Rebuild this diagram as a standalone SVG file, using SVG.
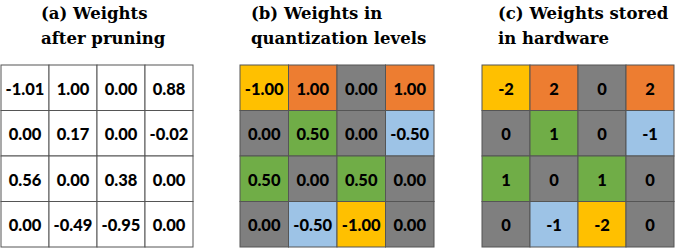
<svg xmlns="http://www.w3.org/2000/svg" width="676" height="248" viewBox="0 0 676 248">
<style>
.v{font-family:Lato,"Liberation Sans",sans-serif;font-weight:900;font-size:16.5px;fill:#000;text-anchor:middle;dominant-baseline:central}
.c{stroke:#555;stroke-width:1}
.w{fill:#fff}.y{fill:#FFC000}.o{fill:#ED7D31}.g{fill:#7F7F7F}.gr{fill:#70AD47}.b{fill:#9DC3E6}
</style>
<rect width="676" height="248" fill="#fff"/>
<g font-family="DejaVu Serif" font-weight="bold" font-size="16.5" fill="#000">
<g id="title-a"><text x="41" y="19">(a) Weights</text><text x="41" y="44">after pruning</text></g>
<g id="title-b"><text x="251" y="19">(b) Weights in</text><text x="251" y="44">quantization levels</text></g>
<g id="title-c"><text x="498" y="19">(c) Weights stored</text><text x="498" y="44">in hardware</text></g>
</g>
<g id="grid-a">
<rect class="c w" x="1" y="65" width="48" height="45.5"/><text class="v" x="25" y="88.5">-1.01</text>
<rect class="c w" x="49" y="65" width="48" height="45.5"/><text class="v" x="73" y="88.5">1.00</text>
<rect class="c w" x="97" y="65" width="48" height="45.5"/><text class="v" x="121" y="88.5">0.00</text>
<rect class="c w" x="145" y="65" width="48" height="45.5"/><text class="v" x="169" y="88.5">0.88</text>
<rect class="c w" x="1" y="110.5" width="48" height="45.5"/><text class="v" x="25" y="134">0.00</text>
<rect class="c w" x="49" y="110.5" width="48" height="45.5"/><text class="v" x="73" y="134">0.17</text>
<rect class="c w" x="97" y="110.5" width="48" height="45.5"/><text class="v" x="121" y="134">0.00</text>
<rect class="c w" x="145" y="110.5" width="48" height="45.5"/><text class="v" x="169" y="134">-0.02</text>
<rect class="c w" x="1" y="156" width="48" height="45.5"/><text class="v" x="25" y="179.5">0.56</text>
<rect class="c w" x="49" y="156" width="48" height="45.5"/><text class="v" x="73" y="179.5">0.00</text>
<rect class="c w" x="97" y="156" width="48" height="45.5"/><text class="v" x="121" y="179.5">0.38</text>
<rect class="c w" x="145" y="156" width="48" height="45.5"/><text class="v" x="169" y="179.5">0.00</text>
<rect class="c w" x="1" y="201.5" width="48" height="45.5"/><text class="v" x="25" y="225">0.00</text>
<rect class="c w" x="49" y="201.5" width="48" height="45.5"/><text class="v" x="73" y="225">-0.49</text>
<rect class="c w" x="97" y="201.5" width="48" height="45.5"/><text class="v" x="121" y="225">-0.95</text>
<rect class="c w" x="145" y="201.5" width="48" height="45.5"/><text class="v" x="169" y="225">0.00</text>
</g>
<g id="grid-b">
<rect class="c y" x="240" y="65" width="48.5" height="45.5"/><text class="v" x="264.2" y="88.5">-1.00</text>
<rect class="c o" x="288.5" y="65" width="48.5" height="45.5"/><text class="v" x="312.7" y="88.5">1.00</text>
<rect class="c g" x="337" y="65" width="48.5" height="45.5"/><text class="v" x="361.2" y="88.5">0.00</text>
<rect class="c o" x="385.5" y="65" width="48.5" height="45.5"/><text class="v" x="409.7" y="88.5">1.00</text>
<rect class="c g" x="240" y="110.5" width="48.5" height="45.5"/><text class="v" x="264.2" y="134">0.00</text>
<rect class="c gr" x="288.5" y="110.5" width="48.5" height="45.5"/><text class="v" x="312.7" y="134">0.50</text>
<rect class="c g" x="337" y="110.5" width="48.5" height="45.5"/><text class="v" x="361.2" y="134">0.00</text>
<rect class="c b" x="385.5" y="110.5" width="48.5" height="45.5"/><text class="v" x="409.7" y="134">-0.50</text>
<rect class="c gr" x="240" y="156" width="48.5" height="45.5"/><text class="v" x="264.2" y="179.5">0.50</text>
<rect class="c g" x="288.5" y="156" width="48.5" height="45.5"/><text class="v" x="312.7" y="179.5">0.00</text>
<rect class="c gr" x="337" y="156" width="48.5" height="45.5"/><text class="v" x="361.2" y="179.5">0.50</text>
<rect class="c g" x="385.5" y="156" width="48.5" height="45.5"/><text class="v" x="409.7" y="179.5">0.00</text>
<rect class="c g" x="240" y="201.5" width="48.5" height="45.5"/><text class="v" x="264.2" y="225">0.00</text>
<rect class="c b" x="288.5" y="201.5" width="48.5" height="45.5"/><text class="v" x="312.7" y="225">-0.50</text>
<rect class="c y" x="337" y="201.5" width="48.5" height="45.5"/><text class="v" x="361.2" y="225">-1.00</text>
<rect class="c g" x="385.5" y="201.5" width="48.5" height="45.5"/><text class="v" x="409.7" y="225">0.00</text>
</g>
<g id="grid-c">
<rect class="c y" x="482" y="65" width="48" height="45.5"/><text class="v" x="506" y="88.5">-2</text>
<rect class="c o" x="530" y="65" width="48" height="45.5"/><text class="v" x="554" y="88.5">2</text>
<rect class="c g" x="578" y="65" width="48" height="45.5"/><text class="v" x="602" y="88.5">0</text>
<rect class="c o" x="626" y="65" width="48" height="45.5"/><text class="v" x="650" y="88.5">2</text>
<rect class="c g" x="482" y="110.5" width="48" height="45.5"/><text class="v" x="506" y="134">0</text>
<rect class="c gr" x="530" y="110.5" width="48" height="45.5"/><text class="v" x="554" y="134">1</text>
<rect class="c g" x="578" y="110.5" width="48" height="45.5"/><text class="v" x="602" y="134">0</text>
<rect class="c b" x="626" y="110.5" width="48" height="45.5"/><text class="v" x="650" y="134">-1</text>
<rect class="c gr" x="482" y="156" width="48" height="45.5"/><text class="v" x="506" y="179.5">1</text>
<rect class="c g" x="530" y="156" width="48" height="45.5"/><text class="v" x="554" y="179.5">0</text>
<rect class="c gr" x="578" y="156" width="48" height="45.5"/><text class="v" x="602" y="179.5">1</text>
<rect class="c g" x="626" y="156" width="48" height="45.5"/><text class="v" x="650" y="179.5">0</text>
<rect class="c g" x="482" y="201.5" width="48" height="45.5"/><text class="v" x="506" y="225">0</text>
<rect class="c b" x="530" y="201.5" width="48" height="45.5"/><text class="v" x="554" y="225">-1</text>
<rect class="c y" x="578" y="201.5" width="48" height="45.5"/><text class="v" x="602" y="225">-2</text>
<rect class="c g" x="626" y="201.5" width="48" height="45.5"/><text class="v" x="650" y="225">0</text>
</g>
</svg>
